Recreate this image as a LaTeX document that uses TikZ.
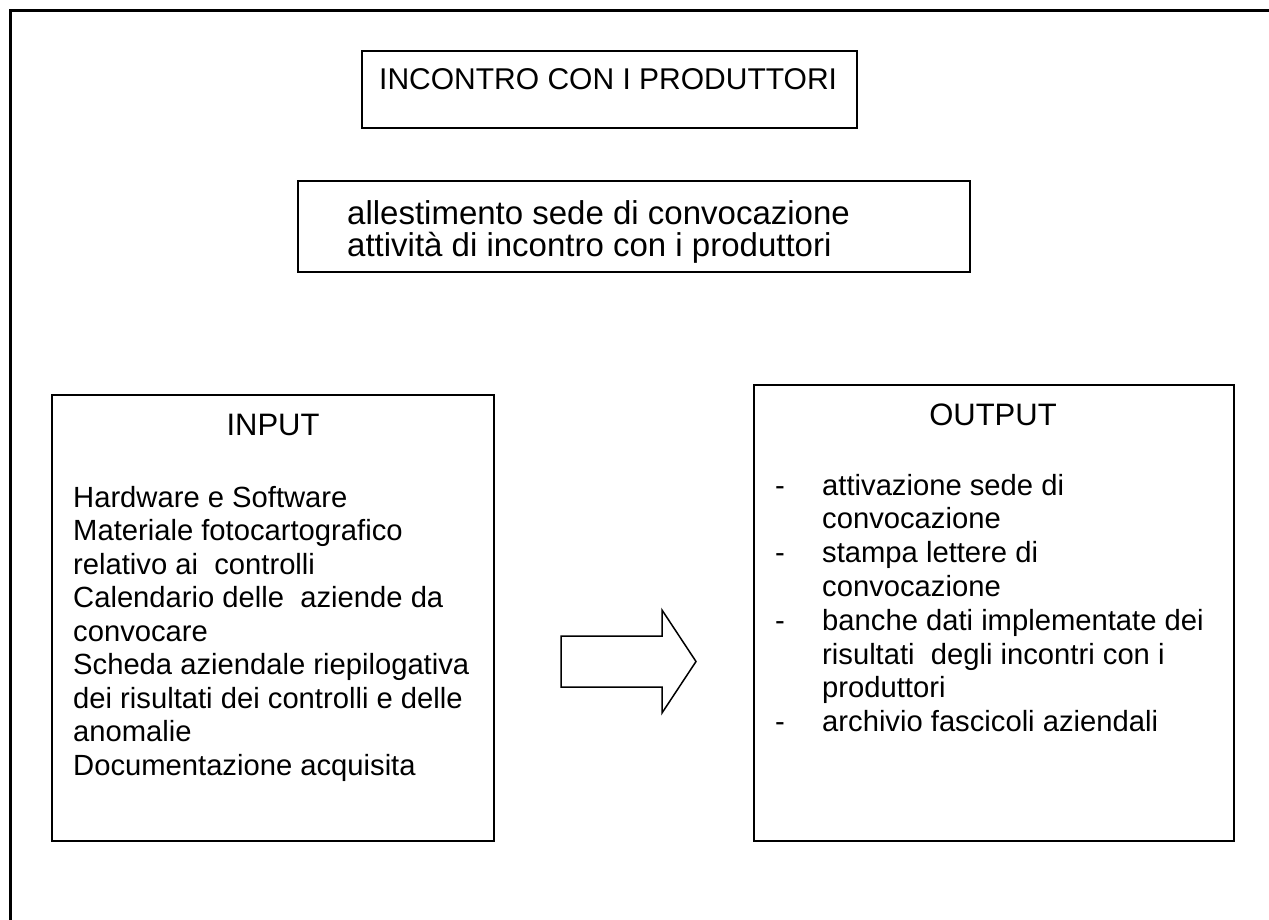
\documentclass[tikz,border=0pt]{standalone}
\usepackage{fontspec}
\setmainfont{Liberation Sans}
\begin{document}
\begin{tikzpicture}[x=1pt,y=-1pt,
  box/.style={draw,line width=2pt,inner sep=0pt,anchor=north west},
  body/.style={anchor=base west,inner sep=0pt,font=\fontsize{29.2}{33}\selectfont},
  big/.style={anchor=base west,inner sep=0pt,font=\fontsize{33}{37}\selectfont},
  ttl/.style={anchor=base west,inner sep=0pt,font=\fontsize{30}{34}\selectfont},
  head/.style={anchor=base,inner sep=0pt,font=\fontsize{31}{35}\selectfont}]
\useasboundingbox (0,0) rectangle (1269,920);
% outer frame (partly cropped)
\coordinate (fa) at (10,920);
\coordinate (fb) at (10,11);
\coordinate (fc) at (1269,11);
\draw[line width=3pt] (fa) -- (fb) -- (fc);
% title
\node[box,minimum width=495pt,minimum height=77pt] (tbox) at (361,50) {};
\node[ttl] (title) at (379,90) {INCONTRO CON I PRODUTTORI};
% activities
\node[box,minimum width=672pt,minimum height=91pt] (abox) at (297,180) {};
\node[big] (a1) at (347,225) {allestimento sede di convocazione};
\node[big] (a2) at (347,257) {attività di incontro con i produttori};
% input
\node[box,minimum width=442pt,minimum height=446pt] (ibox) at (51,394) {};
\node[head] (ih) at (273,435) {INPUT};
\node[body] (i0) at (73,507) {Hardware e Software};
\node[body] (i1) at (73,540.5) {Materiale fotocartografico};
\node[body] (i2) at (73,574) {relativo ai\ \ controlli};
\node[body] (i3) at (73,607.5) {Calendario delle\ \ aziende da};
\node[body] (i4) at (73,641) {convocare};
\node[body] (i5) at (73,674.5) {Scheda aziendale riepilogativa};
\node[body] (i6) at (73,708) {dei risultati dei controlli e delle};
\node[body] (i7) at (73,741.5) {anomalie};
\node[body] (i8) at (73,775) {Documentazione acquisita};
% arrow
\draw[line width=1.5pt,line join=miter] (561,636) -- (662,636) -- (662,610) -- (696,661.5) -- (662,713) -- (662,687) -- (561,687) -- cycle;
% output
\node[box,minimum width=480pt,minimum height=456pt] (obox) at (753,384) {};
\node[head] (oh) at (993,425) {OUTPUT};
\node[body] (d0) at (775,495) {-};
\node[body] (o0) at (822,495) {attivazione sede di};
\node[body] (o1) at (822,528.8) {convocazione};
\node[body] (d1) at (775,562.6) {-};
\node[body] (o2) at (822,562.6) {stampa lettere di};
\node[body] (o3) at (822,596.4) {convocazione};
\node[body] (d2) at (775,630.2) {-};
\node[body] (o4) at (822,630.2) {banche dati implementate dei};
\node[body] (o5) at (822,664) {risultati\ \ degli incontri con i};
\node[body] (o6) at (822,697.8) {produttori};
\node[body] (d3) at (775,731.6) {-};
\node[body] (o7) at (822,731.6) {archivio fascicoli aziendali};
\end{tikzpicture}
\end{document}
